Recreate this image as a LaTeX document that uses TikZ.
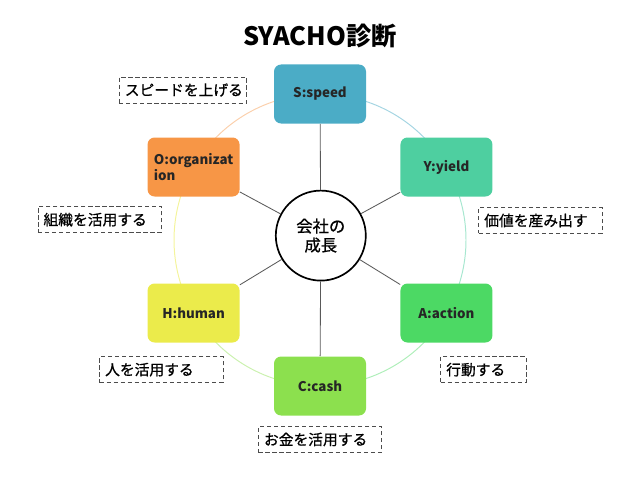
\documentclass[tikz,border=0pt]{standalone}
\usepackage{fontspec}
\setmainfont{Noto Sans CJK JP}
\newfontfamily\notefont{Noto Sans CJK JP}[FakeBold=0.8]
\usetikzlibrary{positioning}
\definecolor{speedcol}{HTML}{4BACC6}
\definecolor{yieldcol}{HTML}{4ECFA0}
\definecolor{actioncol}{HTML}{4CD964}
\definecolor{cashcol}{HTML}{8CE04E}
\definecolor{humancol}{HTML}{EBEB4B}
\definecolor{orgcol}{HTML}{F79646}
\definecolor{spokegray}{HTML}{595959}

\begin{document}
\begin{tikzpicture}[
    element/.style={
        rectangle,
        rounded corners=5pt,
        align=left,
        minimum width=2.3cm,
        minimum height=1.475cm,
        font=\fontsize{9.5}{12}\selectfont\bfseries,
        text=black!85
    },
    note/.style={
        draw=black!70,
        densely dashed,
        rectangle,
        align=left,
        text width=#1,
        inner xsep=4pt,
        minimum height=0.65cm,
        font=\notefont\fontsize{10.5}{12}\selectfont
    },
    spoke/.style={draw=spokegray, line width=0.6pt},
    ring/.style={line width=0.7pt}
]

\useasboundingbox (0,0) rectangle (16,12);

\coordinate (centre) at (8,6);

% title
\node (title) at (8,11.1) {\fontsize{18}{20}\selectfont\bfseries SYACHO診断};

% ring round the six letters
\draw[ring, speedcol!50] ([shift={(90:3.65)}]centre) arc[start angle=90, end angle=30, radius=3.65];
\draw[ring, yieldcol!50] ([shift={(30:3.65)}]centre) arc[start angle=30, end angle=-30, radius=3.65];
\draw[ring, actioncol!45] ([shift={(-30:3.65)}]centre) arc[start angle=-30, end angle=-90, radius=3.65];
\draw[ring, cashcol!45] ([shift={(-90:3.65)}]centre) arc[start angle=-90, end angle=-150, radius=3.65];
\draw[ring, humancol!55] ([shift={(-150:3.65)}]centre) arc[start angle=-150, end angle=-210, radius=3.65];
\draw[ring, orgcol!45] ([shift={(150:3.65)}]centre) arc[start angle=150, end angle=90, radius=3.65];

\node[circle, draw, line width=1.2pt, fill=white, minimum size=2.25cm, align=center,
      font=\notefont\fontsize{11.6}{13.5}\selectfont] (hub) at (8.02,6.11) {会社の\\成長};

\node[element, fill=speedcol] (speed) at ([shift={(90:3.65)}]centre) {S:speed};
\node[element, fill=yieldcol] (yield) at ([shift={(30:3.65)}]centre) {Y:yield};
\node[element, fill=actioncol] (action) at ([shift={(-30:3.65)}]centre) {A:action};
\node[element, fill=cashcol] (cash) at ([shift={(-90:3.65)}]centre) {C:cash};
\node[element, fill=humancol] (human) at ([shift={(-150:3.65)}]centre) {H:human};
\node[element, fill=orgcol] (organization) at ([shift={(150:3.65)}]centre) {O:organizat\\ion};

\node[note=2.9cm] (speednote) [left=0.675cm of speed, yshift=0.1cm] {スピードを上げる};
\node[note=2.8cm] (yieldnote) [below=0.26cm of yield, xshift=2.345cm] {価値を産み出す};
\node[note=1.85cm] (actionnote) [below=0.34cm of action, xshift=0.92cm] {行動する};
\node[note=2.8cm] (cashnote) [below=0.26cm of cash] {お金を活用する};
\node[note=2.8cm] (humannote) [below=0.34cm of human, xshift=-0.81cm] {人を活用する};
\node[note=2.8cm] (orgnote) [below=0.24cm of organization, xshift=-2.35cm] {組織を活用する};

\draw[spoke] (hub) -- (speed);
\draw[spoke] (hub) -- (yield);
\draw[spoke] (hub) -- (action);
\draw[spoke] (hub) -- (cash);
\draw[spoke] (hub) -- (human);
\draw[spoke] (hub) -- (organization);

\end{tikzpicture}
\end{document}
